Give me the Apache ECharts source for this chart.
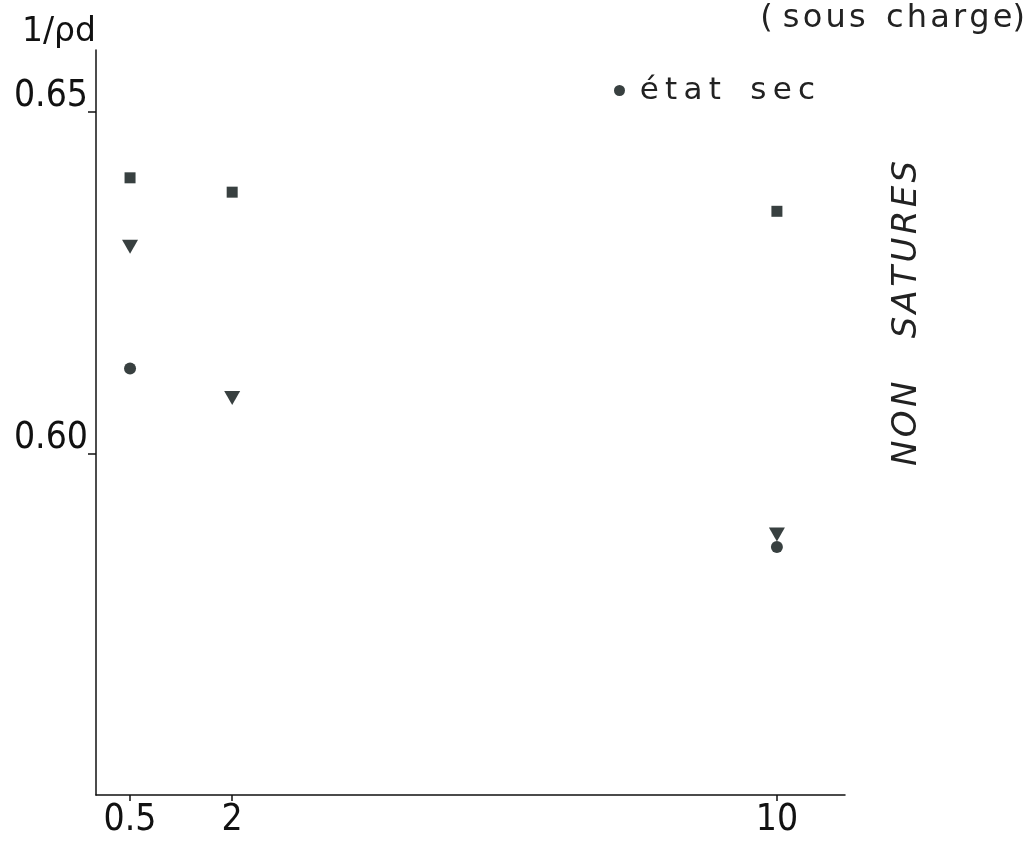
<!DOCTYPE html>
<html>
<head>
<meta charset="utf-8">
<script src="https://cdn.jsdelivr.net/npm/echarts@6/dist/echarts.min.js"></script>
<style>
  html, body { margin: 0; padding: 0; background: #fff; }
  #chart { width: 1033px; height: 850px; }
</style>
</head>
<body>
<div id="chart"></div>
<script>
// Loading levels (x) and inverse dry density 1/ρd (y)
const xTicks = [0.5, 2, 10];
const yTicks = [0.60, 0.65];

const squareX = [0.5, 2, 10];
const squareY = [0.6403, 0.6382, 0.6354];

const triangleX = [0.5, 2, 10];
const triangleY = [0.6302, 0.6081, 0.5881];

const circleX = [0.5, 10];
const circleY = [0.6124, 0.5863];

const ink = '#384040';
const font = 'DejaVu Sans';
const narrow = '"DejaVu Sans Condensed", "Liberation Sans Narrow", "DejaVu Sans"';

function pairs(xs, ys) { return xs.map((x, i) => [x, ys[i]]); }
// wide letter spacing for the annotations
function spaced(s, gap, wordGap) { return s.split(' ').map(w => w.split('').join(gap)).join(wordGap); }

const chart = echarts.init(document.getElementById('chart'), null, { renderer: 'canvas' });

chart.setOption({
  backgroundColor: '#ffffff',
  animation: false,
  grid: { left: 96, right: 188, top: 50, bottom: 55, containLabel: false },
  legend: {
    data: [{ name: 'état sec', icon: 'circle' }],
    formatter: n => ' ' + spaced(n, '\u2009', '   '),
    left: 609, top: 70,
    itemWidth: 11, itemHeight: 11,
    textStyle: { fontFamily: font, fontSize: 31, color: '#222' },
    selectedMode: false
  },
  xAxis: {
    type: 'value', min: 0, max: 11,
    axisLine: { lineStyle: { color: '#111', width: 1.5 } },
    axisTick: { show: true, customValues: xTicks, length: 6, lineStyle: { color: '#111', width: 1.5 } },
    axisLabel: { customValues: xTicks, fontFamily: narrow, fontSize: 37, color: '#111', margin: 7 },
    splitLine: { show: false }
  },
  yAxis: {
    type: 'value', min: 0.55, max: 0.659,
    axisLine: { show: true, lineStyle: { color: '#111', width: 1.5 } },
    axisTick: { show: true, customValues: yTicks, length: 8, lineStyle: { color: '#111', width: 1.5 } },
    axisLabel: {
      customValues: yTicks, fontFamily: narrow, fontSize: 37, lineHeight: 30, color: '#111', margin: 8,
      verticalAlign: 'bottom', formatter: v => v.toFixed(2)
    },
    splitLine: { show: false }
  },
  graphic: [
    { type: 'text', left: 22, top: 16, style: { text: '1/ρd', fontFamily: font, fontSize: 33, fill: '#111' } },
    { type: 'text', right: 8, top: 3, style: { text: '( ' + spaced('sous charge', '\u200A', '  ') + ')', fontFamily: font, fontSize: 32, fill: '#222' } },
    {
      type: 'text', x: 890, y: 466, rotation: Math.PI / 2,
      style: { text: spaced('NON SATURES', '\u200A', '    '), fontFamily: font, fontSize: 34, fontStyle: 'italic', fill: '#222' }
    }
  ],
  series: [
    {
      name: 'carrés', type: 'scatter', symbol: 'rect', symbolSize: 11,
      itemStyle: { color: ink, opacity: 1 }, data: pairs(squareX, squareY)
    },
    {
      name: 'triangles', type: 'scatter', symbol: 'triangle', symbolRotate: 180, symbolSize: [16, 14],
      itemStyle: { color: ink, opacity: 1 }, data: pairs(triangleX, triangleY)
    },
    {
      name: 'état sec', type: 'scatter', symbol: 'circle', symbolSize: 12,
      itemStyle: { color: ink, opacity: 1 }, data: pairs(circleX, circleY)
    }
  ]
});
</script>
</body>
</html>
